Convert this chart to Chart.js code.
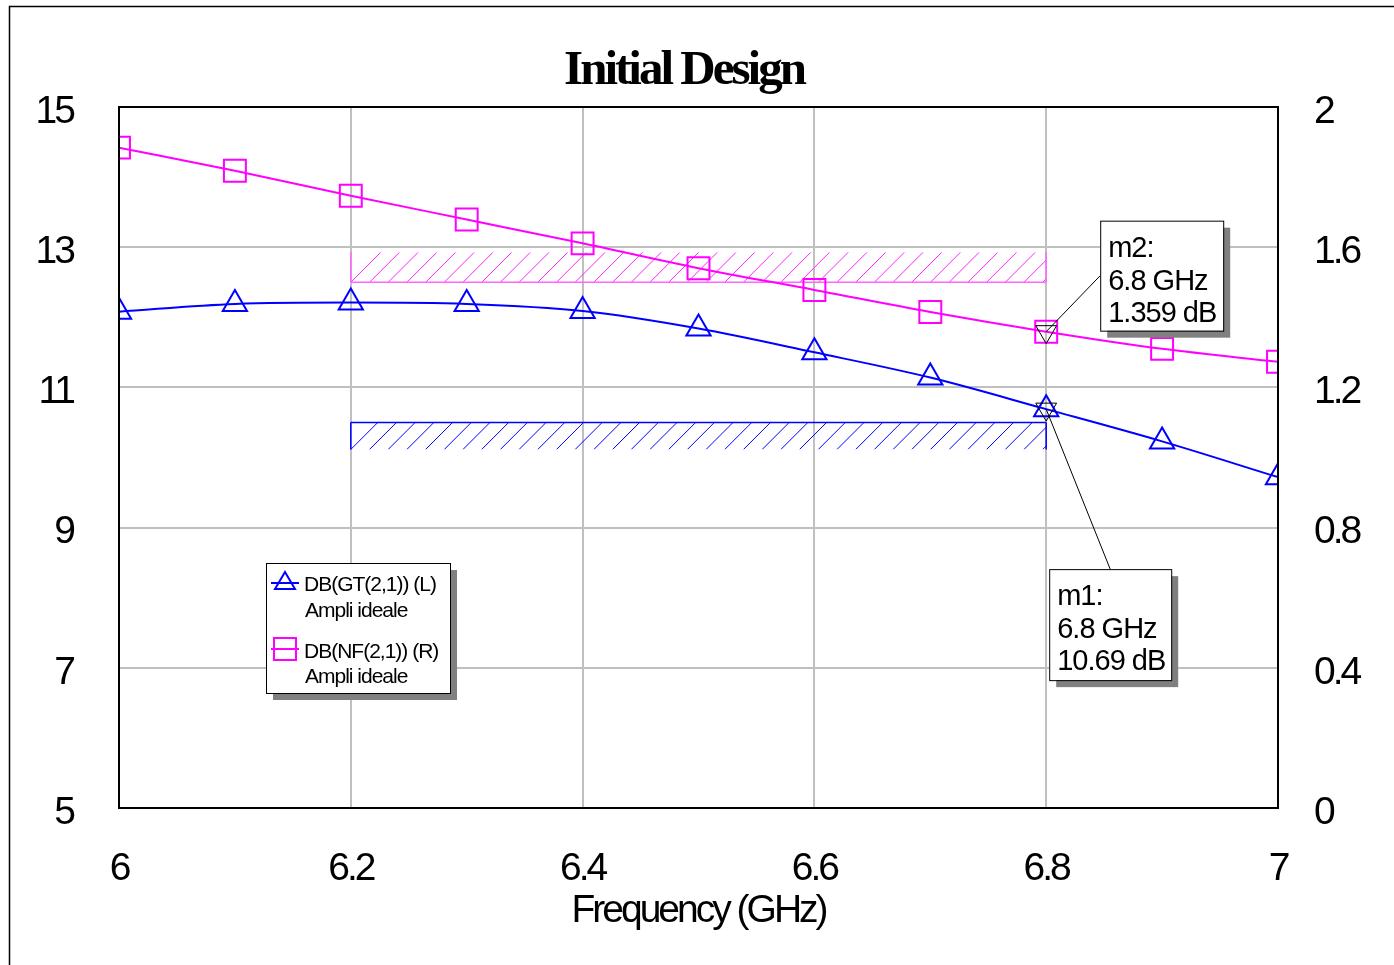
<!DOCTYPE html>
<html>
<head>
<meta charset="utf-8">
<title>Initial Design</title>
<script src="https://cdn.jsdelivr.net/npm/chart.js@4.4.1/dist/chart.umd.min.js"></script>
<style>
  html, body { margin: 0; padding: 0; background: #fff; }
  #wrap { width: 1394px; height: 965px; }
</style>
</head>
<body>
<div id="wrap"><canvas id="chart" width="1394" height="965"></canvas></div>
<script>
// frequency sweep (GHz)
var freqs = [6.0, 6.1, 6.2, 6.3, 6.4, 6.5, 6.6, 6.7, 6.8, 6.9, 7.0];
// DB(GT(2,1)) on left axis
var gainDb = [12.08, 12.19, 12.21, 12.19, 12.09, 11.84, 11.50, 11.14, 10.69, 10.23, 9.72];
// DB(NF(2,1)) on right axis
var noiseDb = [1.884, 1.818, 1.747, 1.679, 1.611, 1.540, 1.478, 1.415, 1.359, 1.310, 1.273];

var xTicks = [6, 6.2, 6.4, 6.6, 6.8, 7];
var xTickLabels = ['6', '6.2', '6.4', '6.6', '6.8', '7'];
var leftTicks = [5, 7, 9, 11, 13, 15];
var leftTickLabels = ['5', '7', '9', '11', '13', '15'];
var rightTicks = [0, 0.4, 0.8, 1.2, 1.6, 2];
var rightTickLabels = ['0', '0.4', '0.8', '1.2', '1.6', '2'];

// optimizer goals (hatched)
var gainGoalFreqs = [6.2, 6.8];
var gainGoal = 10.5;
var noiseGoalFreqs = [6.2, 6.8];
var noiseGoal = 1.5;

// markers
var markerNames = ['m1', 'm2'];
var markerFreqs = [6.8, 6.8];
var markerValues = [10.69, 1.359];

var legendNames = ['DB(GT(2,1)) (L)', 'DB(NF(2,1)) (R)'];
var legendSub = 'Ampli ideale';

var BLUE = '#0000ff';
var MAGENTA = '#ff00ff';

function pts(ys) {
  return freqs.map(function (f, i) { return { x: f, y: ys[i] }; });
}

function hatch(ctx, x1, x2, yEdge, h, up, color, edgeColor) {
  var top = up ? yEdge - h : yEdge;
  var bottom = top + h;
  ctx.save();
  ctx.beginPath();
  ctx.rect(x1, top, x2 - x1, h);
  ctx.clip();
  ctx.strokeStyle = color;
  ctx.lineWidth = 1;
  ctx.beginPath();
  for (var sx = x1; sx < x2; sx += 18.7) {
    ctx.moveTo(sx, bottom);
    ctx.lineTo(sx + h, top);
  }
  ctx.stroke();
  ctx.restore();
  ctx.save();
  ctx.strokeStyle = edgeColor;
  ctx.lineWidth = 1.5;
  ctx.beginPath();
  ctx.moveTo(x1, yEdge); ctx.lineTo(x2, yEdge);
  ctx.moveTo(x1, top); ctx.lineTo(x1, bottom);
  ctx.moveTo(x2, top); ctx.lineTo(x2, bottom);
  ctx.stroke();
  ctx.restore();
}

function shadowBox(ctx, x, y, w, h) {
  ctx.fillStyle = '#808080';
  ctx.fillRect(x + 7, y + 7, w, h);
  ctx.fillStyle = '#fff';
  ctx.fillRect(x, y, w, h);
  ctx.strokeStyle = '#000';
  ctx.lineWidth = 1;
  ctx.strokeRect(x + 0.5, y + 0.5, w, h);
}

function sym(ctx, kind, x, y, color) {
  ctx.strokeStyle = color;
  ctx.lineWidth = 2;
  ctx.beginPath();
  ctx.moveTo(x - 14, y); ctx.lineTo(x + 14, y);
  if (kind == 'triangle') {
    ctx.moveTo(x, y - 11); ctx.lineTo(x + 10, y + 6); ctx.lineTo(x - 10, y + 6); ctx.closePath();
  } else {
    ctx.rect(x - 11, y - 11, 22, 22);
  }
  ctx.stroke();
}

var decor = {
  id: 'decor',
  beforeDraw: function (chart) {
    var ctx = chart.ctx;
    ctx.letterSpacing = '-3px';
    ctx.save();
    ctx.strokeStyle = '#000';
    ctx.lineWidth = 1.5;
    ctx.beginPath();
    ctx.moveTo(9.5, 965); ctx.lineTo(9.5, 6.5); ctx.lineTo(1394, 6.5);
    ctx.stroke();
    ctx.restore();
  },
  beforeDatasetsDraw: function (chart) {
    var ctx = chart.ctx, s = chart.scales;
    hatch(ctx, s.x.getPixelForValue(noiseGoalFreqs[0]), s.x.getPixelForValue(noiseGoalFreqs[1]),
      s.y1.getPixelForValue(noiseGoal), 30, true, '#ff22ff', '#ff66ff');
    hatch(ctx, s.x.getPixelForValue(gainGoalFreqs[0]), s.x.getPixelForValue(gainGoalFreqs[1]),
      s.y.getPixelForValue(gainGoal), 27, false, BLUE, BLUE);
  },
  afterDatasetsDraw: function (chart) {
    var ctx = chart.ctx, a = chart.chartArea;
    ctx.save();
    ctx.strokeStyle = '#000';
    ctx.lineWidth = 2;
    ctx.strokeRect(a.left, a.top, a.right - a.left, a.bottom - a.top);

    // marker readouts
    var m1 = chart.getDatasetMeta(2).data[0];
    var m2 = chart.getDatasetMeta(3).data[0];
    var boxes = [
      { m: m1, x: m1.x + 3, y: m1.y + 160, w: 122, h: 111, lx: m1.x + 64, ly: m1.y + 160 },
      { m: m2, x: m2.x + 54, y: m2.y - 111, w: 123, h: 110, lx: m2.x + 54, ly: m2.y - 56 }
    ];
    ctx.lineWidth = 1;
    boxes.forEach(function (b) {
      ctx.strokeStyle = '#000';
      ctx.beginPath();
      ctx.moveTo(b.m.x, b.m.y);
      ctx.lineTo(b.lx, b.ly);
      ctx.stroke();
    });
    ctx.letterSpacing = '-1px';
    ctx.font = '29px "Liberation Sans", Arial, sans-serif';
    ctx.textBaseline = 'alphabetic';
    ctx.textAlign = 'left';
    boxes.forEach(function (b, i) {
      shadowBox(ctx, b.x, b.y, b.w, b.h);
      ctx.fillStyle = '#000';
      ctx.fillText(markerNames[i] + ':', b.x + 8, b.y + 36);
      ctx.fillText(markerFreqs[i] + ' GHz', b.x + 8, b.y + 69);
      ctx.fillText(markerValues[i] + ' dB', b.x + 8, b.y + 101);
    });

    // legend
    var lx = a.left + 147, ly = a.top + 456;
    shadowBox(ctx, lx, ly, 184, 130);
    sym(ctx, 'triangle', lx + 19, ly + 20, BLUE);
    sym(ctx, 'rect', lx + 19, ly + 86, MAGENTA);
    ctx.letterSpacing = '-1px';
    ctx.font = '21px "Liberation Sans", Arial, sans-serif';
    ctx.fillStyle = '#000';
    ctx.fillText(legendNames[0], lx + 38, ly + 28);
    ctx.fillText(legendSub, lx + 39, ly + 54);
    ctx.fillText(legendNames[1], lx + 38, ly + 95);
    ctx.fillText(legendSub, lx + 39, ly + 120);
    ctx.restore();
    ctx.letterSpacing = '-3px';
  }
};

var tickFont = { family: 'Liberation Sans', size: 39 };

new Chart(document.getElementById('chart').getContext('2d'), {
  type: 'line',
  data: {
    datasets: [{
      label: legendNames[0],
      data: pts(gainDb),
      yAxisID: 'y',
      borderColor: BLUE,
      borderWidth: 2,
      pointStyle: 'triangle',
      pointRadius: 14,
      pointBorderWidth: 2,
      pointBorderColor: BLUE,
      pointBackgroundColor: 'rgba(0,0,0,0)',
      cubicInterpolationMode: 'monotone',
      fill: false,
      clip: 0
    }, {
      label: legendNames[1],
      data: pts(noiseDb),
      yAxisID: 'y1',
      borderColor: MAGENTA,
      borderWidth: 2,
      pointStyle: 'rect',
      pointRadius: 15.5,
      pointBorderWidth: 2,
      pointBorderColor: MAGENTA,
      pointBackgroundColor: 'rgba(0,0,0,0)',
      cubicInterpolationMode: 'monotone',
      fill: false,
      clip: 0
    }, {
      label: markerNames[0],
      data: [{ x: markerFreqs[0], y: markerValues[0] }],
      yAxisID: 'y',
      showLine: false,
      pointStyle: 'triangle',
      rotation: 180,
      pointRadius: 12,
      pointBorderWidth: 1,
      pointBorderColor: '#000',
      pointBackgroundColor: 'rgba(0,0,0,0)',
      order: -1
    }, {
      label: markerNames[1],
      data: [{ x: markerFreqs[1], y: markerValues[1] }],
      yAxisID: 'y1',
      showLine: false,
      pointStyle: 'triangle',
      rotation: 180,
      pointRadius: 12,
      pointBorderWidth: 1,
      pointBorderColor: '#000',
      pointBackgroundColor: 'rgba(0,0,0,0)',
      order: -1
    }]
  },
  options: {
    responsive: false,
    animation: false,
    devicePixelRatio: 1,
    events: [],
    layout: { padding: { left: 0, right: 26, top: 0, bottom: 0 } },
    plugins: {
      legend: { display: false },
      tooltip: { enabled: false },
      title: {
        display: true,
        text: 'Initial Design',
        color: '#000',
        font: { family: 'Liberation Serif', size: 49, weight: 'bold', lineHeight: 1 },
        padding: { top: 47, bottom: 11 }
      }
    },
    scales: {
      x: {
        type: 'linear',
        min: 6,
        max: 7,
        afterBuildTicks: function (s) { s.ticks = xTicks.map(function (v) { return { value: v }; }); },
        afterFit: function (s) { s.height = 157; },
        grid: { color: '#c0c0c0', lineWidth: 2, drawTicks: false, tickLength: 0 },
        border: { display: false },
        ticks: {
          color: '#000',
          font: tickFont,
          padding: 38,
          maxRotation: 0,
          autoSkip: false,
          callback: function (v, i) { return xTickLabels[i]; }
        },
        title: {
          display: true,
          text: 'Frequency (GHz)',
          color: '#000',
          font: tickFont,
          padding: { top: 0, bottom: 30 }
        }
      },
      y: {
        position: 'left',
        min: 5,
        max: 15,
        afterBuildTicks: function (s) { s.ticks = leftTicks.map(function (v) { return { value: v }; }); },
        afterFit: function (s) { s.width = 119; },
        grid: { color: '#c0c0c0', lineWidth: 2, drawTicks: false, tickLength: 0 },
        border: { display: false },
        ticks: {
          color: '#000',
          font: tickFont,
          padding: 46,
          labelOffset: 5,
          callback: function (v, i) { return leftTickLabels[i]; }
        }
      },
      y1: {
        position: 'right',
        min: 0,
        max: 2,
        afterBuildTicks: function (s) { s.ticks = rightTicks.map(function (v) { return { value: v }; }); },
        afterFit: function (s) { s.width = 90; },
        grid: { drawOnChartArea: false, drawTicks: false, tickLength: 0 },
        border: { display: false },
        ticks: {
          color: '#000',
          font: tickFont,
          padding: 36,
          labelOffset: 5,
          callback: function (v, i) { return rightTickLabels[i]; }
        }
      }
    }
  },
  plugins: [decor]
});
</script>
</body>
</html>
